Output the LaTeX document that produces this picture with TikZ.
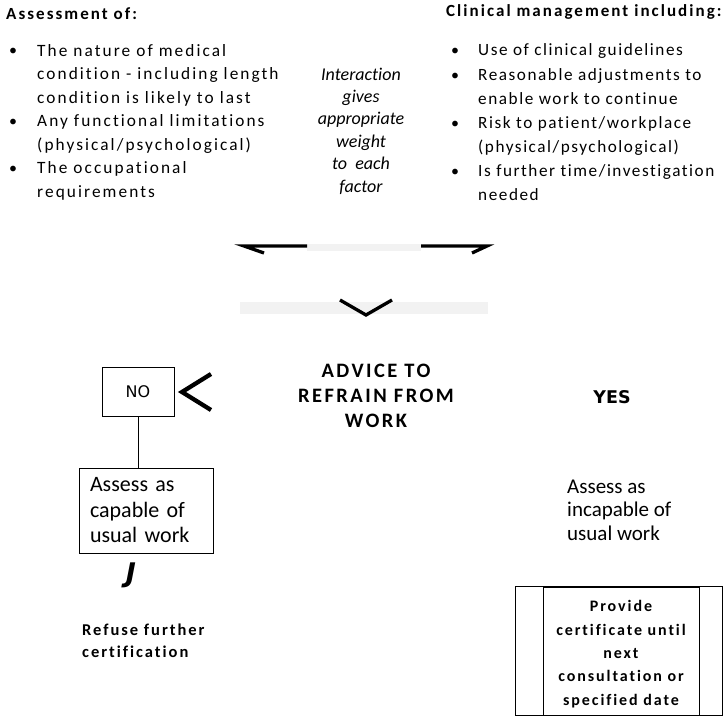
\documentclass[tikz,border=0pt]{standalone}
\usepackage{fontspec}
\setmainfont{Carlito}[Ligatures=NoCommon]
\newfontfamily\spaced{Carlito}[LetterSpace=12,Ligatures=NoCommon]
\newfontfamily\spacedb{Carlito}[LetterSpace=9,Ligatures=NoCommon]
\newfontfamily\wide{DejaVu Sans}
\usetikzlibrary{positioning}

\tikzset{
  texto/.style={inner sep=0pt, anchor=base west, align=left},
  lista/.style={texto, font=\spaced\fontsize{17.3}{23.5}\selectfont},
  listab/.style={texto, font=\spacedb\fontsize{17.2}{24}\selectfont},
  punto/.style={inner sep=0pt, anchor=base, font=\fontsize{16}{16}\selectfont},
  titulo/.style={texto, font=\spaced\bfseries\fontsize{17}{20}\selectfont},
  caja/.style={draw, line width=0.9pt},
  trazo/.style={line width=3.3pt},
  fantasma/.style={fill=black!5, draw=none},
}

\begin{document}
\begin{tikzpicture}[x=1pt,y=-1pt]
		\useasboundingbox (0,0) rectangle (723,725);
		% encabezados
		\node[titulo] (asesA) at (6,20) {Assessment of:};
		\node[titulo] (clinA) at (446,17) {Clinical management including:};
		% lista izquierda (base = ultima linea)
		\foreach \y/\n in {56/1,126.5/2,173.5/3}
		\node[punto] (pi\n) at (13,\y) {•};
		\node[lista] (li1) at (37,103) {The nature of medical\\condition - including length\\condition is likely to last};
		\node[lista] (li2) at (37,150) {Any functional limitations\\(physical/psychological)};
		\node[lista] (li3) at (37,197) {The occupational\\requirements};
		% texto central
		\node[texto, anchor=base, align=center, font=\itshape\fontsize{18}{22.4}\selectfont] (inter) at (361,192) {Interaction\\gives\\appropriate\\weight\\to\ \ each\\factor};
		% lista derecha
		\foreach \y/\n in {56/1,80/2,128/3,176/4}
		\node[punto] (pd\n) at (455,\y) {•};
		\node[listab] (ld1) at (478,56) {Use of clinical guidelines};
		\node[listab] (ld2) at (478,104) {Reasonable adjustments to\\enable work to continue};
		\node[listab] (ld3) at (478,152) {Risk to patient/workplace\\(physical/psychological)};
		\node[listab] (ld4) at (478,200) {Is further time/investigation\\needed};
		% restos de flechas
		\fill[fantasma] (307,244) rectangle (421,251);
		\fill[fantasma] (240,302) rectangle (488,314);
		\draw[trazo] (264,253) -- (244,246) -- (307,246);
		\draw[trazo] (421,246) -- (487,246) -- (472,253);
		\draw[trazo] (340,300) -- (366,315) -- (392,300);
		% decision
		\node[texto, anchor=base, align=center, font=\spaced\bfseries\fontsize{20.5}{25}\selectfont] (advice) at (376,427) {ADVICE TO\\REFRAIN FROM\\WORK};
		\node[inner sep=0pt, anchor=base, font=\wide\bfseries\fontsize{17.5}{20}\selectfont] (yes) at (612,403) {YES};
		\node[caja, minimum width=72pt, minimum height=49pt, font=\wide\fontsize{16}{16}\selectfont] (no) at (138,391.5) {NO};
		\draw[line width=4.3pt] (211,374) -- (182,392) -- (211,410); % signo <
		% rama NO
		\node[caja, minimum width=134pt, minimum height=85pt, text width=112pt, inner xsep=11pt, align=left, font=\fontsize{22}{25.5}\selectfont] (capaz) at (146,510.5) {Assess as\\capable of\\usual work};
		\draw[line width=0.9pt] (no.south) -- (no.south |- capaz.north);
		\node[inner sep=0pt, font=\wide\bfseries\itshape\fontsize{27}{27}\selectfont] (jota) at (131,575) {J};
		\node[texto, font=\spaced\bfseries\fontsize{16.5}{22}\selectfont] (rechazo) at (82,657) {Refuse further\\certification};
		% rama YES
		\node[texto, font=\fontsize{21}{23.5}\selectfont] (incapaz) at (567,540) {Assess as\\incapable of\\usual work};
		\node[caja, minimum width=156pt, minimum height=128pt] (certbox) at (621,651) {};
		\node[texto, anchor=base, align=center, font=\spaced\bfseries\fontsize{16}{23.3}\selectfont] (cert) at (621,705) {Provide\\certificate until\\next\\consultation or\\specified date};
		\draw[caja] ([xshift=-27pt]certbox.north west) rectangle ([xshift=23pt]certbox.south east);
\end{tikzpicture}
\end{document}
